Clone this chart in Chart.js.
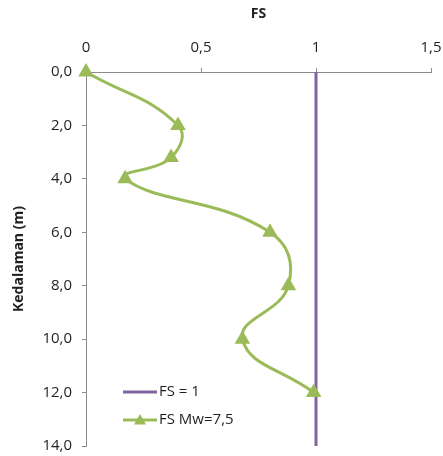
<!DOCTYPE html>
<html>
<head>
<meta charset="utf-8">
<script src="https://cdn.jsdelivr.net/npm/chart.js@4/dist/chart.umd.min.js"></script>
<style>
  html, body { margin: 0; padding: 0; background: #fff; }
  #wrap { width: 443px; height: 456px; }
</style>
</head>
<body>
<div id="wrap"><canvas id="c" width="443" height="456"></canvas></div>
<script>
// Depth profile of factor of safety against liquefaction
const depths = [0, 2, 3.2, 4, 6, 8, 10, 12];
const fsMw75 = [0, 0.40, 0.37, 0.17, 0.80, 0.88, 0.68, 0.99];
const limitFs = [1, 1];
const limitDepths = [0, 14];
const xTicks = [0, 0.5, 1, 1.5];
const yTicks = [0, 2, 4, 6, 8, 10, 12, 14];
const seriesNames = ['FS = 1', 'FS Mw=7,5'];

const GREEN = '#9BBB59';
const PURPLE = '#8064A2';
const AXIS = '#8c8c8c';
const TEXT = '#1f1f1f';
const FONT = "'Open Sans', 'Liberation Sans', sans-serif";

const PAD = { left: 4, right: 12, top: 6, bottom: 10 };

const comma = v => String(v).replace('.', ',');

// Legend drawn inside the plot, bottom-left
const innerLegend = {
  id: 'innerLegend',
  afterDatasetsDraw(chart) {
    const ctx = chart.ctx;
    const x0 = 123, x1 = 157;
    const rows = [
      { y: 392, color: PURPLE, marker: false, text: seriesNames[0] },
      { y: 420, color: GREEN, marker: true, text: seriesNames[1] }
    ];
    ctx.save();
    rows.forEach(r => {
      ctx.strokeStyle = r.color;
      ctx.lineWidth = 3;
      ctx.beginPath();
      ctx.moveTo(x0, r.y);
      ctx.lineTo(x1, r.y);
      ctx.stroke();
      if (r.marker) {
        const cx = (x0 + x1) / 2, s = 6;
        ctx.fillStyle = r.color;
        ctx.beginPath();
        ctx.moveTo(cx, r.y - s);
        ctx.lineTo(cx + s, r.y + s * 0.75);
        ctx.lineTo(cx - s, r.y + s * 0.75);
        ctx.closePath();
        ctx.fill();
      }
      ctx.fillStyle = TEXT;
      ctx.font = '15px ' + FONT;
      ctx.textBaseline = 'middle';
      ctx.textAlign = 'left';
      ctx.fillText(r.text, x1 + 2, r.y);
    });
    ctx.restore();
  }
};

new Chart(document.getElementById('c'), {
  type: 'scatter',
  data: {
    datasets: [
      {
        label: seriesNames[1],
        data: depths.map((d, i) => ({ x: fsMw75[i], y: d })),
        showLine: true,
        tension: 0.45,
        borderColor: GREEN,
        backgroundColor: GREEN,
        borderWidth: 3,
        pointStyle: 'triangle',
        pointRadius: 6,
        pointHoverRadius: 6,
        order: 0
      },
      {
        label: seriesNames[0],
        data: limitDepths.map((d, i) => ({ x: limitFs[i], y: d })),
        showLine: true,
        borderColor: PURPLE,
        backgroundColor: PURPLE,
        borderWidth: 3,
        pointRadius: 0,
        pointHoverRadius: 0,
        order: 1
      }
    ]
  },
  options: {
    responsive: false,
    animation: false,
    clip: false,
    layout: { padding: PAD },
    plugins: {
      legend: { display: false },
      tooltip: { enabled: false }
    },
    scales: {
      x: {
        type: 'linear',
        position: 'top',
        min: 0,
        max: 1.5,
        afterBuildTicks: axis => { axis.ticks = xTicks.map(v => ({ value: v })); },
        afterFit: axis => {
          axis.height = 72 - PAD.top;
          axis.paddingLeft = 0;
          axis.paddingRight = 0;
        },
        ticks: {
          callback: v => comma(v),
          color: TEXT,
          font: { family: FONT, size: 15 },
          padding: 11,
          maxRotation: 0
        },
        grid: { display: true, drawOnChartArea: false, drawTicks: true, tickLength: 4, color: AXIS },
        border: { display: true, color: AXIS, width: 1 },
        title: { display: true, text: 'FS', color: TEXT, font: { family: FONT, size: 14, weight: 'bold' }, padding: { top: 0, bottom: 0 } }
      },
      y: {
        type: 'linear',
        reverse: true,
        min: 0,
        max: 14,
        afterBuildTicks: axis => { axis.ticks = yTicks.map(v => ({ value: v })); },
        afterFit: axis => {
          axis.width = 86 - PAD.left;
          axis.paddingTop = 0;
          axis.paddingBottom = 0;
        },
        ticks: {
          callback: v => Number(v).toFixed(1).replace('.', ','),
          color: TEXT,
          font: { family: FONT, size: 15 },
          padding: 10
        },
        grid: { display: true, drawOnChartArea: false, drawTicks: true, tickLength: 4, color: AXIS },
        border: { display: true, color: AXIS, width: 1 },
        title: { display: true, text: 'Kedalaman (m)', color: TEXT, font: { family: FONT, size: 14, weight: 'bold' }, padding: { top: 7, bottom: 0 } }
      }
    }
  },
  plugins: [innerLegend]
});
</script>
</body>
</html>
